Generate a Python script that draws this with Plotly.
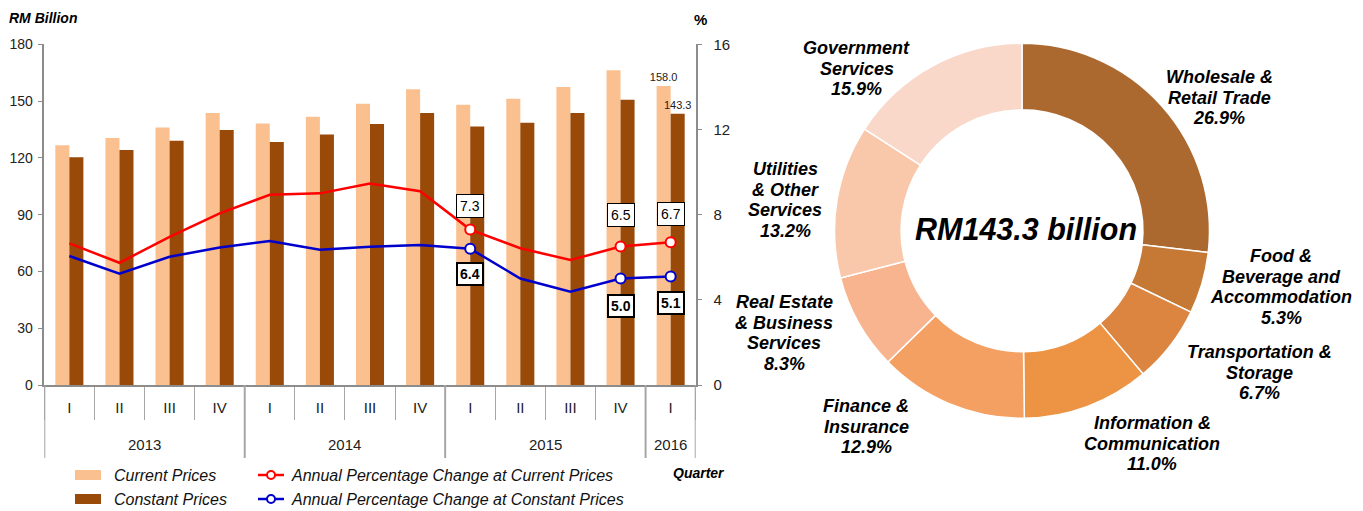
import plotly.graph_objects as go

# ---------------- data ----------------
quarters = ["I", "II", "III", "IV", "I", "II", "III", "IV", "I", "II", "III", "IV", "I"]
years = ["2013"] * 4 + ["2014"] * 4 + ["2015"] * 4 + ["2016"]
current_prices = [126.6, 130.5, 136.1, 143.7, 138.1, 141.7, 148.6, 156.3, 148.1, 151.2, 157.5, 166.3, 158.0]
constant_prices = [120.3, 124.2, 129.1, 134.7, 128.4, 132.3, 137.9, 143.7, 136.6, 138.6, 143.7, 150.7, 143.3]
pct_current = [6.65, 5.74, 6.96, 8.06, 8.93, 9.0, 9.46, 9.1, 7.3, 6.42, 5.87, 6.5, 6.7]
pct_constant = [6.06, 5.23, 6.02, 6.46, 6.76, 6.35, 6.49, 6.57, 6.4, 5.0, 4.38, 5.0, 5.1]
marked_points = [8, 11, 12]

sectors = ["Wholesale &<br>Retail Trade", "Food &<br>Beverage and<br>Accommodation",
           "Transportation &<br>Storage", "Information &<br>Communication",
           "Finance &<br>Insurance", "Real Estate<br>& Business<br>Services",
           "Utilities<br>& Other<br>Services", "Government<br>Services"]
shares = [26.9, 5.3, 6.7, 11.0, 12.9, 8.3, 13.2, 15.9]
total_label = "RM143.3 billion"

# ---------------- styling ----------------
OFF = 8                      # page body margin
W, H = 1363 - OFF, 511 - OFF
def px(x): return (x - OFF) / W
def py(y): return 1 - (y - OFF) / H

SANS = "Liberation Sans, Arial, sans-serif"
AXIS_GREY = "#8C8C8C"
C_CUR, C_CON = "#FAC08F", "#994A08"
RED, BLUE = "#FF0000", "#0000CC"
sector_colors = ["#AB6930", "#C67835", "#DB8541", "#EC9444", "#F5A063", "#F7B48F", "#F9C7AA", "#F9D8C9"]

idx = list(range(len(quarters)))
n = len(idx)

fig = go.Figure()
fig.add_bar(x=idx, y=current_prices, marker=dict(color=C_CUR, line=dict(width=0)),
            offsetgroup="cur", showlegend=False, cliponaxis=False, constraintext="none",
            text=[f"{v:.1f}" if i == n - 1 else "" for i, v in enumerate(current_prices)],
            textposition="outside", textfont=dict(family=SANS, size=11, color="#222"))
fig.add_bar(x=idx, y=constant_prices, marker=dict(color=C_CON, line=dict(width=0)),
            offsetgroup="con", showlegend=False, cliponaxis=False, constraintext="none",
            text=[f"{v:.1f}" if i == n - 1 else "" for i, v in enumerate(constant_prices)],
            textposition="outside", textfont=dict(family=SANS, size=11, color="#222"))
fig.add_scatter(x=idx, y=pct_current, yaxis="y2", mode="lines",
                line=dict(color=RED, width=2.5), showlegend=False)
fig.add_scatter(x=idx, y=pct_constant, yaxis="y2", mode="lines",
                line=dict(color=BLUE, width=2.5), showlegend=False)
fig.add_scatter(x=[idx[i] for i in marked_points], y=[pct_current[i] for i in marked_points],
                yaxis="y2", mode="markers", showlegend=False,
                marker=dict(size=10, color="white", line=dict(color=RED, width=2)))
fig.add_scatter(x=[idx[i] for i in marked_points], y=[pct_constant[i] for i in marked_points],
                yaxis="y2", mode="markers", showlegend=False,
                marker=dict(size=10, color="white", line=dict(color=BLUE, width=2)))

fig.add_pie(labels=sectors, values=shares, hole=0.645, sort=False, direction="clockwise",
            rotation=0, textinfo="none", showlegend=False,
            marker=dict(colors=sector_colors, line=dict(color="white", width=1.5)),
            domain=dict(x=[px(834.5), px(1209.5)], y=[py(418.3), py(43.3)]))

ann = []
shapes = []

def note(x, y, text, size, xanchor="center", color="#000"):
    ann.append(dict(x=px(x), y=py(y), xref="paper", yref="paper", text=text, showarrow=False,
                    xanchor=xanchor, yanchor="middle",
                    font=dict(family=SANS, size=size, color=color)))

# value boxes
red_off = {8: 24, 11: 32, 12: 28}
blue_off = {8: -25, 11: -27, 12: -27}
for i in marked_points:
    ann.append(dict(x=idx[i], y=pct_current[i], xref="x", yref="y2", yshift=red_off[i],
                    xanchor="center", yanchor="middle",
                    text=f"{pct_current[i]:.1f}", showarrow=False, bgcolor="white",
                    bordercolor="#000", borderwidth=1, borderpad=3,
                    font=dict(family=SANS, size=14, color="#000")))
    ann.append(dict(x=idx[i], y=pct_constant[i], xref="x", yref="y2", yshift=blue_off[i],
                    xanchor="center", yanchor="middle",
                    text=f"<b>{pct_constant[i]:.1f}</b>", showarrow=False, bgcolor="white",
                    bordercolor="#000", borderwidth=2, borderpad=2,
                    font=dict(family=SANS, size=14, color="#000")))

# year labels and dividers
groups = []
for i, yv in enumerate(years):
    if not groups or groups[-1][0] != yv:
        groups.append([yv, i, i])
    else:
        groups[-1][2] = i
axis_y = py(385)
for yv, a, b in groups:
    ann.append(dict(x=(a + b) / 2, y=py(444), xref="x", yref="paper", text=yv, showarrow=False,
                    xanchor="center", yanchor="middle",
                    font=dict(family=SANS, size=15, color="#222")))
    shapes.append(dict(type="line", xref="x", yref="paper", x0=a - 0.5, x1=a - 0.5,
                       y0=axis_y, y1=py(458), line=dict(color="#A6A6A6", width=2)))
shapes.append(dict(type="line", xref="x", yref="paper", x0=n - 0.5, x1=n - 0.5,
                   y0=axis_y, y1=py(458), line=dict(color="#A6A6A6", width=2)))

# axis titles
note(43, 18, "<b><i>RM Billion</i></b>", 14)
note(700, 20, "<b>%</b>", 15)
note(699, 473, "<b><i>Quarter</i></b>", 14)

# legend
leg = [("rect", C_CUR, "Current Prices", 88, 475), ("rect", C_CON, "Constant Prices", 88, 499),
       ("line", RED, "Annual Percentage Change at Current Prices", 271, 475),
       ("line", BLUE, "Annual Percentage Change at Constant Prices", 271, 499)]
for kind, col, label, cx, cy in leg:
    if kind == "rect":
        shapes.append(dict(type="rect", xref="paper", yref="paper", x0=px(cx - 13), x1=px(cx + 13),
                           y0=py(cy + 5), y1=py(cy - 5), fillcolor=col, line=dict(width=0)))
        tx = cx + 24
    else:
        shapes.append(dict(type="line", xref="paper", yref="paper", x0=px(cx - 13), x1=px(cx + 13),
                           y0=py(cy), y1=py(cy), line=dict(color=col, width=2.5)))
        shapes.append(dict(type="circle", xref="paper", yref="paper", x0=px(cx - 4), x1=px(cx + 4),
                           y0=py(cy + 4), y1=py(cy - 4), fillcolor="white", line=dict(color=col, width=2)))
        tx = cx + 18
    note(tx, cy, f"<i>{label}</i>", 16, xanchor="left", color="#111")

# donut labels
label_pos = [(1219, 77), (1281, 256), (1259, 352), (1152, 423), (866, 406), (784, 302), (785, 169), (857, 48)]
for name, share, (lx, ly) in zip(sectors, shares, label_pos):
    lines = name.split("<br>") + [f"{share:.1f}%"]
    for k, ln in enumerate(lines):
        note(lx, ly + k * 20.7, f"<b><i>{ln}</i></b>", 18)
note(1026, 229, f"<b><i>{total_label}</i></b>", 30.5)

fig.update_layout(
    width=W, height=H, margin=dict(l=0, r=0, t=0, b=0, autoexpand=False),
    paper_bgcolor="white", plot_bgcolor="white", showlegend=False,
    barmode="group", bargap=0.44, bargroupgap=0,
    xaxis=dict(domain=[px(44.3), px(695.7)], range=[-0.5, n - 0.5], tickmode="array",
               tickvals=idx, ticktext=quarters, ticks="", showline=True, linecolor=AXIS_GREY,
               linewidth=2, showgrid=False, zeroline=False, ticklabelstandoff=8, automargin=False,
               tickfont=dict(family=SANS, size=15, color="#222"),
               minor=dict(tick0=-0.5, dtick=1, ticks="outside", ticklen=33, tickwidth=1,
                          tickcolor="#A6A6A6", showgrid=False)),
    yaxis=dict(domain=[py(385), py(44.3)], range=[0, 180], tickmode="array",
               tickvals=[0, 30, 60, 90, 120, 150, 180], ticks="outside", ticklen=5,
               tickcolor=AXIS_GREY, showline=True, linecolor=AXIS_GREY, linewidth=1.5,
               showgrid=False, zeroline=False, ticklabelstandoff=2, automargin=False,
               tickfont=dict(family=SANS, size=14, color="#222")),
    yaxis2=dict(overlaying="y", side="right", range=[0, 16], tickmode="array",
                tickvals=[0, 4, 8, 12, 16], ticks="outside", ticklen=5, tickcolor=AXIS_GREY,
                showline=True, linecolor=AXIS_GREY, linewidth=1.5, showgrid=False, zeroline=False,
                ticklabelstandoff=8, anchor="x", automargin=False,
                tickfont=dict(family=SANS, size=15, color="#222")),
    annotations=ann, shapes=shapes,
)

fig.write_html("out.html")
